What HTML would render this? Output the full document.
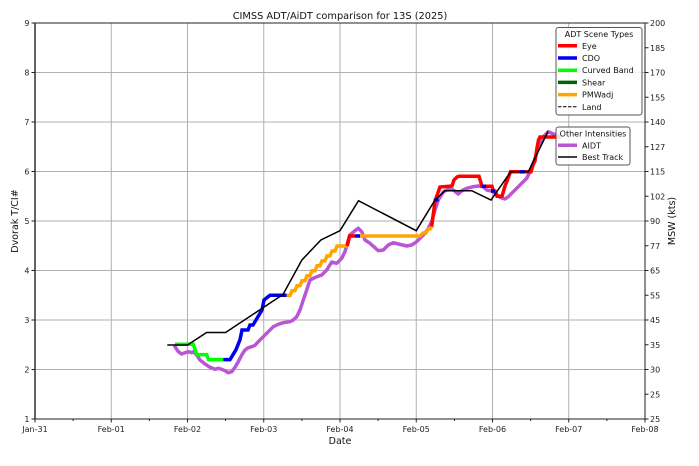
<!DOCTYPE html>
<html><head><meta charset="utf-8"><style>
html,body{margin:0;padding:0;background:#fff;}
svg{display:block;font-family:"DejaVu Sans","Liberation Sans",sans-serif;}
</style></head><body>
<svg width="699" height="466" viewBox="0 0 699 466" xmlns="http://www.w3.org/2000/svg">
<rect width="699" height="466" fill="#fff"/>
<!-- grid -->
<g stroke="#b0b0b0" stroke-width="1">
<line x1="111.25" y1="23" x2="111.25" y2="419"/>
<line x1="187.5" y1="23" x2="187.5" y2="419"/>
<line x1="263.75" y1="23" x2="263.75" y2="419"/>
<line x1="340" y1="23" x2="340" y2="419"/>
<line x1="416.25" y1="23" x2="416.25" y2="419"/>
<line x1="492.5" y1="23" x2="492.5" y2="419"/>
<line x1="568.75" y1="23" x2="568.75" y2="419"/>
<line x1="35" y1="72.5" x2="645" y2="72.5"/>
<line x1="35" y1="122" x2="645" y2="122"/>
<line x1="35" y1="171.5" x2="645" y2="171.5"/>
<line x1="35" y1="221" x2="645" y2="221"/>
<line x1="35" y1="270.5" x2="645" y2="270.5"/>
<line x1="35" y1="320" x2="645" y2="320"/>
<line x1="35" y1="369.5" x2="645" y2="369.5"/>
</g>
<!-- AIDT -->
<polyline fill="none" stroke="#ba55d3" stroke-width="3.5" stroke-linejoin="round" stroke-linecap="round" points="175,346.7 178.3,351.7 181.7,354 185,352.7 188.3,351.7 191.7,352.7 193.3,351.7 196.7,355 200,360 205,364 210,367.3 215,369.3 218.3,368.3 221.7,369.3 225,370.7 228.3,372.7 231.7,371.7 235,367.3 238.3,361.7 241.7,355 245,350 248.3,347.7 251.7,346.7 255,345.3 258.3,341.7 263.3,336.7 268.3,331.7 273.3,326.7 278.3,324.3 283.3,322.7 290,321.7 293.3,320 296.7,316.7 300,310 303.3,300 306.7,290 310,280 315,277.5 321.7,275 326.7,270 331.7,262 336.7,263.3 341.7,258.3 345,251.7 347.3,243.3 350,235 355,230.7 358.3,228.3 361.7,231.7 365,240 370,243.3 378.3,250.7 383.3,250 388.3,245 393.3,242.7 398.3,244 406.7,246 411.7,245 416.7,241.7 420,238.3 425,233.3 428.3,228.3 431.7,221.7 435,210 438.3,200 443.3,192 448.3,189 453.3,190 458.3,194 461.7,190.7 466.7,188.3 473.3,186.7 478.3,186 483.3,186.7 486.7,190 491.7,191 495,193.3 500,197.3 505,199 508.3,196.7 513.3,191.7 518.3,186.7 523.3,181.7 526.7,178.3 530,171.7 535,158.3 538.3,146.7 543.3,136.7 548.3,131.7 551.7,133.3 556,135 560,137"/>
<!-- ADT segments -->
<g fill="none" stroke-width="3.5" stroke-linejoin="miter">
<polyline stroke="#00ff00" points="175,344.3 193.3,344.3 196.7,354.6 206.7,354.6 208.5,359.6 223.3,359.6"/>
<polyline stroke="#0000ee" points="223.3,359.6 230,359.6 233,354.6 236,349.7 238,344.7 240,339.7 242,330 248,330 250,325 253,325 256,320 259,315 262,310 264,300 270,295.2 286.7,295.2"/>
<polyline stroke="#ffa500" points="286.7,295.5 290,295.5 292,290.6 295,290.6 297,285.6 300,285.6 302,280.7 305,280.7 307,275.7 310,275.7 312,270.8 315,270.8 317,265.8 320,265.8 322,260.9 325,260.9 327,255.9 330,255.9 332,251 335,251 337,246 347.5,246"/>
<polyline stroke="#ff0000" points="347.3,246 349.5,236 355,236"/>
<polyline stroke="#0000ee" points="355,236 360,236"/>
<polyline stroke="#ffa500" points="360,236 420,236 423,233 426,233 428,229 430,229 432,226"/>
<polyline stroke="#ff0000" points="431.7,226.5 435,201 440,187 452,186 454,180 457,177 459,176.3 479,176.3 482,186.3 492,186.3 493.5,191 495,191 497,196.3 502,196.3 505,186 509,176 510.5,171.8 531,171.8 533,165 535,161 537,148 538.5,140 540,137 560,137"/>
<polyline stroke="#0000ee" points="434,200.5 438.5,199.5"/>
<polyline stroke="#0000ee" points="481.8,186.3 486,186.3"/>
<polyline stroke="#0000ee" points="491,191 495,191"/>
<polyline stroke="#0000ee" points="520,171.8 525,171.8"/>
</g>
<!-- Best track -->
<polyline fill="none" stroke="#000" stroke-width="1.5" points="167.3,345 187.5,345 206.6,332.5 225.6,332.5 283,294.5 301.9,260 320.9,240 340,230.7 358.5,200.7 416.25,230.7 435,200 445,190.7 471.7,190.7 491,200 510.7,171.7 528.3,171.7 548,131.5"/>
<!-- spines -->
<rect x="35" y="23" width="610" height="396" fill="none" stroke="#222" stroke-width="1"/>
<line x1="35" y1="23" x2="35" y2="419" stroke="#222" stroke-width="1.4"/>
<!-- left ticks -->
<g stroke="#222" stroke-width="1">
<line x1="31.5" y1="23" x2="35" y2="23"/><line x1="31.5" y1="72.5" x2="35" y2="72.5"/><line x1="31.5" y1="122" x2="35" y2="122"/><line x1="31.5" y1="171.5" x2="35" y2="171.5"/><line x1="31.5" y1="221" x2="35" y2="221"/><line x1="31.5" y1="270.5" x2="35" y2="270.5"/><line x1="31.5" y1="320" x2="35" y2="320"/><line x1="31.5" y1="369.5" x2="35" y2="369.5"/><line x1="31.5" y1="419" x2="35" y2="419"/>
<!-- bottom major -->
<line x1="35" y1="419" x2="35" y2="422.5"/><line x1="111.25" y1="419" x2="111.25" y2="422.5"/><line x1="187.5" y1="419" x2="187.5" y2="422.5"/><line x1="263.75" y1="419" x2="263.75" y2="422.5"/><line x1="340" y1="419" x2="340" y2="422.5"/><line x1="416.25" y1="419" x2="416.25" y2="422.5"/><line x1="492.5" y1="419" x2="492.5" y2="422.5"/><line x1="568.75" y1="419" x2="568.75" y2="422.5"/><line x1="645" y1="419" x2="645" y2="422.5"/>
<!-- bottom minor -->
<line x1="73.1" y1="419" x2="73.1" y2="421"/><line x1="149.4" y1="419" x2="149.4" y2="421"/><line x1="225.6" y1="419" x2="225.6" y2="421"/><line x1="301.9" y1="419" x2="301.9" y2="421"/><line x1="378.1" y1="419" x2="378.1" y2="421"/><line x1="454.4" y1="419" x2="454.4" y2="421"/><line x1="530.6" y1="419" x2="530.6" y2="421"/><line x1="606.9" y1="419" x2="606.9" y2="421"/>
<!-- right ticks -->
<line x1="645" y1="23" x2="648.5" y2="23"/><line x1="645" y1="47.75" x2="648.5" y2="47.75"/><line x1="645" y1="72.5" x2="648.5" y2="72.5"/><line x1="645" y1="97.25" x2="648.5" y2="97.25"/><line x1="645" y1="122" x2="648.5" y2="122"/><line x1="645" y1="146.75" x2="648.5" y2="146.75"/><line x1="645" y1="171.5" x2="648.5" y2="171.5"/><line x1="645" y1="196.25" x2="648.5" y2="196.25"/><line x1="645" y1="221" x2="648.5" y2="221"/><line x1="645" y1="245.75" x2="648.5" y2="245.75"/><line x1="645" y1="270.5" x2="648.5" y2="270.5"/><line x1="645" y1="295.25" x2="648.5" y2="295.25"/><line x1="645" y1="320" x2="648.5" y2="320"/><line x1="645" y1="344.75" x2="648.5" y2="344.75"/><line x1="645" y1="369.5" x2="648.5" y2="369.5"/><line x1="645" y1="394.25" x2="648.5" y2="394.25"/><line x1="645" y1="419" x2="648.5" y2="419"/>
</g>
<!-- tick labels -->
<g font-size="8" fill="#222" text-anchor="end">
<text x="29.5" y="26">9</text><text x="29.5" y="75.5">8</text><text x="29.5" y="125">7</text><text x="29.5" y="174.5">6</text><text x="29.5" y="224">5</text><text x="29.5" y="273.5">4</text><text x="29.5" y="323">3</text><text x="29.5" y="372.5">2</text><text x="29.5" y="422">1</text>
</g>
<g font-size="8" fill="#222" text-anchor="start">
<text x="650" y="26">200</text><text x="650" y="50.75">185</text><text x="650" y="75.5">170</text><text x="650" y="100.25">155</text><text x="650" y="125">140</text><text x="650" y="149.75">127</text><text x="650" y="174.5">115</text><text x="650" y="199.25">102</text><text x="650" y="224">90</text><text x="650" y="248.75">77</text><text x="650" y="273.5">65</text><text x="650" y="298.25">55</text><text x="650" y="323">45</text><text x="650" y="347.75">35</text><text x="650" y="372.5">30</text><text x="650" y="397.25">25</text><text x="650" y="422">25</text>
</g>
<g font-size="8" fill="#222" text-anchor="middle">
<text x="35" y="432">Jan-31</text><text x="111.25" y="432">Feb-01</text><text x="187.5" y="432">Feb-02</text><text x="263.75" y="432">Feb-03</text><text x="340" y="432">Feb-04</text><text x="416.25" y="432">Feb-05</text><text x="492.5" y="432">Feb-06</text><text x="568.75" y="432">Feb-07</text><text x="645" y="432">Feb-08</text>
</g>
<!-- titles -->
<text x="340" y="19" font-size="9.8" fill="#111" text-anchor="middle">CIMSS ADT/AiDT comparison for 13S (2025)</text>
<text x="340" y="444" font-size="9.5" fill="#111" text-anchor="middle">Date</text>
<text transform="translate(18,221) rotate(-90)" font-size="9.5" fill="#111" text-anchor="middle">Dvorak T/CI#</text>
<text transform="translate(675,221) rotate(-90)" font-size="9.5" fill="#111" text-anchor="middle">MSW (kts)</text>
<!-- legend 1 -->
<rect x="556" y="27.5" width="86" height="87.5" rx="2.5" fill="#fff" fill-opacity="0.85" stroke="#555" stroke-width="1"/>
<text x="599" y="37" font-size="8" fill="#111" text-anchor="middle">ADT Scene Types</text>
<g stroke-width="3.5">
<line x1="558" y1="45.8" x2="577" y2="45.8" stroke="#ff0000"/>
<line x1="558" y1="58" x2="577" y2="58" stroke="#0000ee"/>
<line x1="558" y1="70.2" x2="577" y2="70.2" stroke="#00ff00"/>
<line x1="558" y1="82.4" x2="577" y2="82.4" stroke="#006400"/>
<line x1="558" y1="94.6" x2="577" y2="94.6" stroke="#ffa500"/>
</g>
<line x1="558" y1="106.8" x2="577" y2="106.8" stroke="#000" stroke-width="1" stroke-dasharray="3.5,1.5"/>
<g font-size="8" fill="#111">
<text x="582" y="48.8">Eye</text><text x="582" y="61">CDO</text><text x="582" y="73.2">Curved Band</text><text x="582" y="85.4">Shear</text><text x="582" y="97.6">PMWadj</text><text x="582" y="109.8">Land</text>
</g>
<!-- legend 2 -->
<rect x="556" y="127" width="74" height="38" rx="2.5" fill="#fff" fill-opacity="0.85" stroke="#555" stroke-width="1"/>
<text x="593" y="136.5" font-size="8" fill="#111" text-anchor="middle">Other Intensities</text>
<line x1="558" y1="145.3" x2="577" y2="145.3" stroke="#ba55d3" stroke-width="3.5"/>
<line x1="558" y1="157" x2="577" y2="157" stroke="#000" stroke-width="1.5"/>
<g font-size="8" fill="#111">
<text x="582" y="148.3">AIDT</text><text x="582" y="160">Best Track</text>
</g>
</svg>
</body></html>
